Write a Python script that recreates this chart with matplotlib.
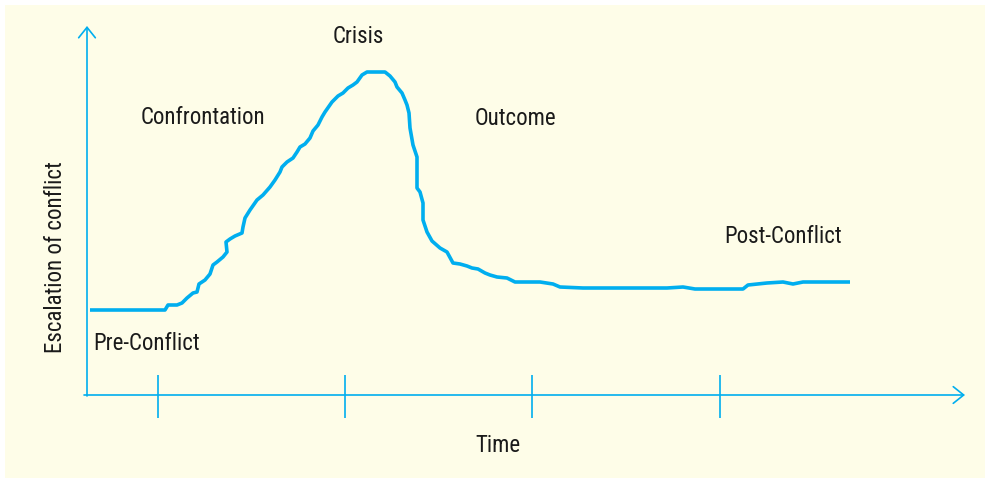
import matplotlib.pyplot as plt
from matplotlib.patches import Rectangle

# traced curve (time vs escalation, arbitrary units measured from the axes origin)
time = [3, 78, 81, 90, 95, 100, 106, 110, 112, 118, 123, 126, 130, 136, 140, 139, 143, 148,
        155, 156, 158, 163, 170, 176, 183, 188, 193, 195, 200, 206, 210, 213, 218, 223, 226,
        231, 235, 238, 245, 251, 256, 261, 266, 270, 275, 280, 298, 303, 308, 310, 315, 318,
        320, 322, 323, 326, 330, 330, 333, 336, 336, 340, 345, 353, 360, 366, 373, 380, 385,
        391, 398, 403, 410, 420, 428, 453, 466, 473, 496, 580, 596, 608, 656, 661, 680, 696,
        706, 716, 763]
escalation = [85, 85, 90, 90, 92, 97, 102, 103, 111, 115, 121, 130, 133, 138, 143, 153, 156, 159,
              162, 168, 177, 185, 195, 200, 208, 215, 223, 228, 233, 237, 243, 248, 251, 257, 264,
              270, 278, 283, 293, 299, 302, 307, 310, 313, 320, 323, 323, 319, 313, 308, 302, 295,
              290, 282, 267, 250, 238, 207, 203, 192, 175, 163, 154, 147, 143, 132, 131, 129, 127,
              126, 122, 120, 118, 117, 113, 113, 111, 108, 107, 107, 108, 106, 106, 110, 112, 113,
              111, 113, 113]

phase_ticks = [71, 258, 445, 633]
phase_labels = ["Pre-Conflict", "Confrontation", "Crisis", "Outcome", "Post-Conflict"]

BLUE = "#00AEEF"
CREAM = "#FEFDE8"
FONT = ["Liberation Sans Narrow", "DejaVu Sans Condensed", "Roboto Condensed", "Noto Sans",
        "DejaVu Sans"]

fig = plt.figure(figsize=(9.85, 4.78), dpi=100)
fig.patch.set_facecolor("white")

ax = fig.add_axes([0, 0, 1, 1])
ax.set_xlim(-87, 898)
ax.set_ylim(-83, 395)
ax.axis("off")

# cream panel, leaving a thin white margin top and left
ax.add_patch(Rectangle((5 / 985, 0), 980 / 985, 473 / 478, transform=ax.transAxes,
                       facecolor=CREAM, edgecolor="none", zorder=0))

# axes with open arrow heads
arrow = dict(arrowstyle="->,head_length=0.75,head_width=0.6", color=BLUE, lw=1.2,
             shrinkA=0, shrinkB=0, mutation_scale=10)
ax.annotate("", xy=(878, 0), xytext=(-3, 0), arrowprops=arrow, zorder=2)
ax.annotate("", xy=(0, 369), xytext=(0, -1), arrowprops=arrow, zorder=2)
ax.vlines(phase_ticks, -23, 20, color=BLUE, lw=1.2, zorder=2)

ax.plot(time, escalation, color=BLUE, lw=2.6, solid_capstyle="butt",
        solid_joinstyle="round", zorder=3)

# phase labels
txt = dict(fontsize=16.5, family=FONT, stretch="condensed", color="#1a1a1a",
           va="baseline", zorder=4)
ax.text(6, 45, phase_labels[0], ha="left", **txt)
ax.text(115.5, 271, phase_labels[1], ha="center", **txt)
ax.text(271, 352, phase_labels[2], ha="center", **txt)
ax.text(428, 270, phase_labels[3], ha="center", **txt)
ax.text(696, 152, phase_labels[4], ha="center", **txt)

ax.text(411, -57, "Time", ha="center", **txt)
ax.text(-32, 138, "Escalation of conflict", ha="center", va="center", rotation=90,
        fontsize=16.5, family=FONT, stretch="condensed", color="#1a1a1a", zorder=4)

plt.savefig("out.png", dpi=100)
plt.close()
